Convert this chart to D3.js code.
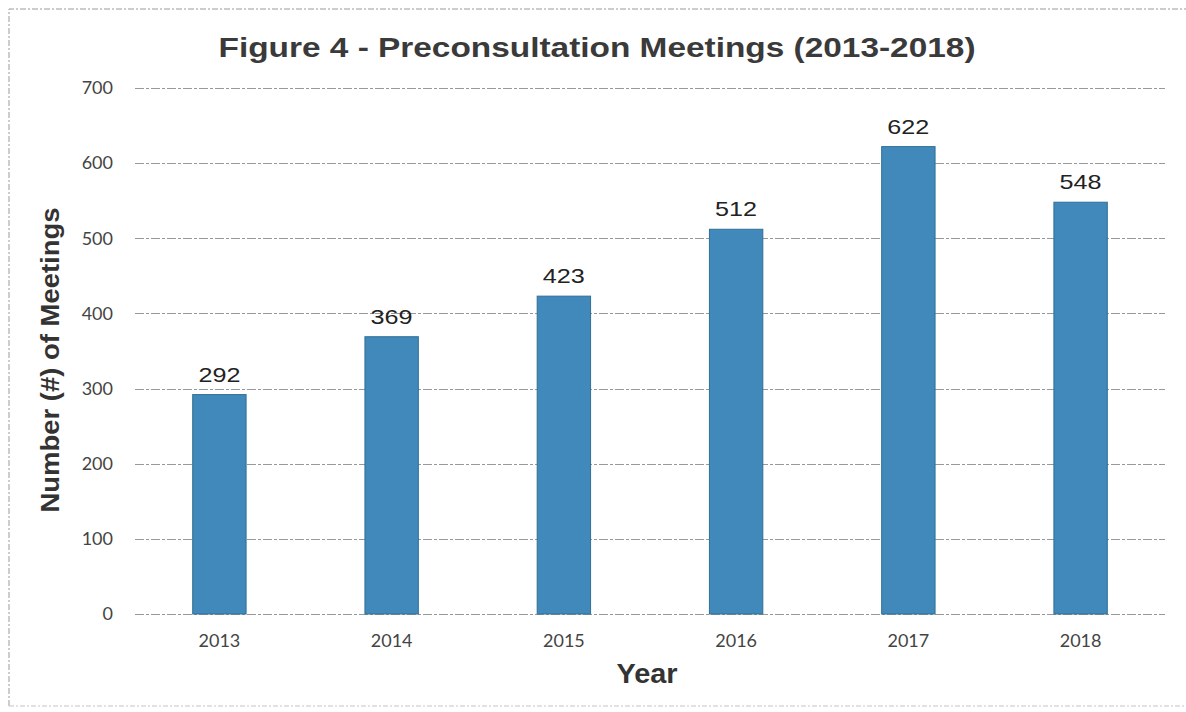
<!DOCTYPE html>
<html>
<head>
<meta charset="utf-8">
<script src="https://cdn.jsdelivr.net/npm/d3@7"></script>
<style>
  html, body { margin: 0; padding: 0; background: #fff; }
  svg { display: block; }
</style>
</head>
<body>
<svg id="chart" width="1186" height="712"></svg>
<script>
// Preconsultation meetings per year
const years = ["2013", "2014", "2015", "2016", "2017", "2018"];
const meetings = [292, 369, 423, 512, 622, 548];
const yTicks = [0, 100, 200, 300, 400, 500, 600, 700];

const svg = d3.select("#chart");
const W = 1186, H = 712;
const margin = { top: 88, right: 21, bottom: 98, left: 135 };

// Outer frame
svg.append("path")
  .attr("d", `M9,${H - 6} L9,9 L${W},9`)
  .attr("fill", "none")
  .attr("stroke", "#9a9a9a")
  .attr("stroke-width", 1)
  .attr("stroke-dasharray", "6,2,2,2");
svg.append("line")
  .attr("x1", 9).attr("x2", W)
  .attr("y1", H - 6).attr("y2", H - 6)
  .attr("stroke", "#c4c4c4")
  .attr("stroke-width", 1)
  .attr("stroke-dasharray", "5,2,2,2");

const x = d3.scaleBand()
  .domain(years)
  .range([margin.left, W - margin.right])
  .paddingInner(0.69)
  .paddingOuter(0.335);

const y = d3.scaleLinear()
  .domain([0, 700])
  .range([H - margin.bottom, margin.top]);

// Horizontal gridlines
svg.append("g")
  .selectAll("line")
  .data(yTicks)
  .join("line")
  .attr("x1", margin.left)
  .attr("x2", W - margin.right)
  .attr("y1", d => Math.round(y(d)) + 0.5)
  .attr("y2", d => Math.round(y(d)) + 0.5)
  .attr("stroke", "#999")
  .attr("stroke-width", 1)
  .attr("stroke-dasharray", "9,2,3,2");

// Y axis labels
const yAxis = d3.axisLeft(y).tickValues(yTicks).tickSize(0).tickPadding(22);
svg.append("g")
  .attr("transform", `translate(${margin.left},0)`)
  .call(yAxis)
  .call(g => g.select(".domain").remove())
  .call(g => g.selectAll("text")
    .attr("font-family", "Lato, 'Open Sans', sans-serif")
    .attr("font-size", 18)
    .attr("fill", "#444"));

// X axis labels
const xAxis = d3.axisBottom(x).tickSize(0).tickPadding(20);
svg.append("g")
  .attr("transform", `translate(0,${H - margin.bottom})`)
  .call(xAxis)
  .call(g => g.select(".domain").remove())
  .call(g => g.selectAll("text")
    .attr("font-family", "Lato, 'Open Sans', sans-serif")
    .attr("font-size", 18)
    .attr("fill", "#444"));

// Bars
svg.append("g")
  .selectAll("rect")
  .data(meetings)
  .join("rect")
  .attr("x", (d, i) => x(years[i]))
  .attr("y", d => y(d))
  .attr("width", x.bandwidth())
  .attr("height", d => y(0) - y(d))
  .attr("fill", "#4089ba")
  .attr("stroke", "#2f6f96")
  .attr("stroke-width", 1);

// Value labels
svg.append("g")
  .selectAll("text")
  .data(meetings)
  .join("text")
  .attr("x", (d, i) => x(years[i]) + x.bandwidth() / 2)
  .attr("y", d => y(d) - 13)
  .attr("text-anchor", "middle")
  .attr("font-family", "'Liberation Sans', Arial, sans-serif")
  .attr("font-size", 21)
  .attr("textLength", 42)
  .attr("lengthAdjust", "spacingAndGlyphs")
  .attr("fill", "#222")
  .text(d => d);

// Title
svg.append("text")
  .attr("x", 597)
  .attr("y", 57)
  .attr("text-anchor", "middle")
  .attr("font-family", "'Liberation Sans', Arial, sans-serif")
  .attr("font-weight", "bold")
  .attr("font-size", 28)
  .attr("textLength", 757)
  .attr("lengthAdjust", "spacingAndGlyphs")
  .attr("fill", "#3a3a3a")
  .text("Figure 4 - Preconsultation Meetings (2013-2018)");

// Axis titles
svg.append("text")
  .attr("transform", `translate(59,360) rotate(-90)`)
  .attr("text-anchor", "middle")
  .attr("font-family", "'Liberation Sans', Arial, sans-serif")
  .attr("font-weight", "bold")
  .attr("font-size", 25)
  .attr("textLength", 305)
  .attr("lengthAdjust", "spacingAndGlyphs")
  .attr("fill", "#333")
  .text("Number (#) of Meetings");

svg.append("text")
  .attr("x", 647)
  .attr("y", 683)
  .attr("text-anchor", "middle")
  .attr("font-family", "'Liberation Sans', Arial, sans-serif")
  .attr("font-weight", "bold")
  .attr("font-size", 27)
  .attr("textLength", 61)
  .attr("lengthAdjust", "spacingAndGlyphs")
  .attr("fill", "#333")
  .text("Year");
</script>
</body>
</html>
